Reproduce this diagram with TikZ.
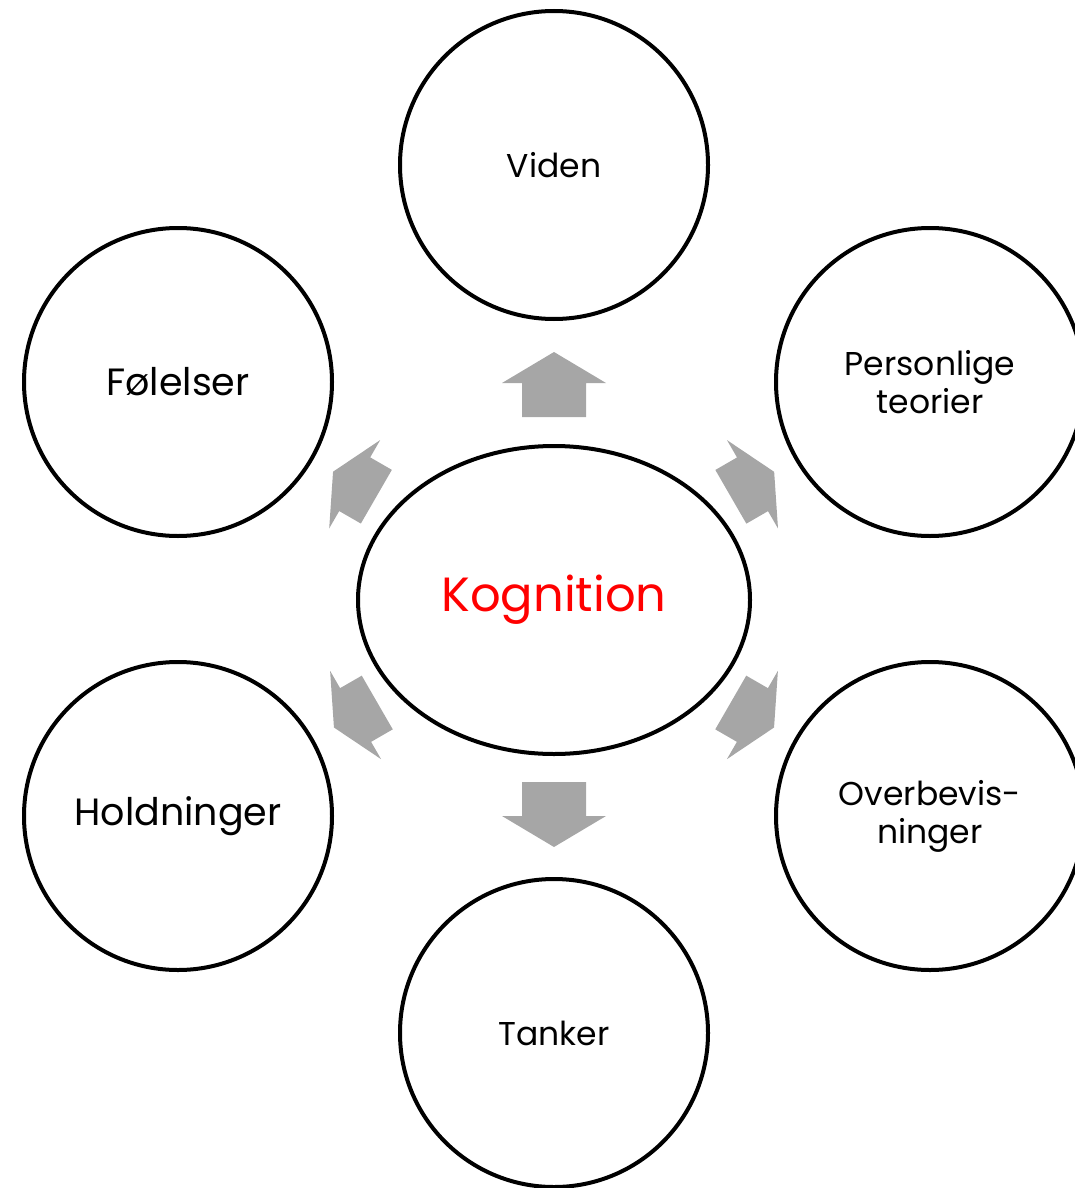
\documentclass[tikz,border=0pt]{standalone}
\usepackage{fontspec}
\setmainfont{Poppins}
\definecolor{arrowgray}{HTML}{A6A6A6}
\definecolor{kogred}{HTML}{FF0000}
\usetikzlibrary{shapes.geometric}
\tikzset{
  outer/.style={circle, draw=black, line width=4pt, minimum size=308pt, inner sep=0pt, align=center, font=\fontsize{33}{38}\selectfont},
  bigtext/.style={font=\fontsize{38}{44}\selectfont},
  center/.style={ellipse, draw=black, line width=4pt, minimum width=392pt, minimum height=308pt, inner sep=0pt, text=kogred, font=\fontsize{48}{56}\selectfont},
  blockarrow/.style={fill=arrowgray}
}
% #1 centre, #2 rotation, #3 half length, #4 head length, #5 head half width, #6 shaft half width
\newcommand{\blockarr}[6]{%
  \fill[blockarrow, shift={(#1)}, rotate=#2]
    (0,-#3) -- (#5,{-#3+#4}) -- (#6,{-#3+#4}) -- (#6,#3) -- (-#6,#3) -- (-#6,{-#3+#4}) -- (-#5,{-#3+#4}) -- cycle;}
\begin{document}
\begin{tikzpicture}[x=1pt,y=-1pt]
\useasboundingbox (0,0) rectangle (1074,1188);
\node[center] (kog) at (554,600) {Kognition};
\node[outer] (viden) at (554,165) {Viden};
\node[outer] (pers) at (930,382) {Personlige\\teorier};
\node[outer] (over) at (930,816) {Overbevis-\\ninger};
\node[outer] (tank) at (554,1033) {Tanker};
\node[outer, bigtext] (hold) at (178,816) {Holdninger};
\node[outer, bigtext] (fol) at (178,382) {Følelser};
\coordinate (aU) at (554,384.5);
\coordinate (aD) at (554,814.5);
\coordinate (aUR) at (752.5,484.3);
\coordinate (aDR) at (752.4,715);
\coordinate (aUL) at (354.7,484.2);
\coordinate (aDL) at (355.6,715);
\blockarr{aU}{0}{32.5}{31}{52}{32}
\blockarr{aD}{180}{32.5}{31}{52}{32}
\blockarr{aUR}{-60}{25}{25}{51}{31}
\blockarr{aDR}{-120}{25}{25}{51}{31}
\blockarr{aDL}{120}{25}{25}{51}{31}
\blockarr{aUL}{60}{25}{25}{51}{31}
\end{tikzpicture}
\end{document}
